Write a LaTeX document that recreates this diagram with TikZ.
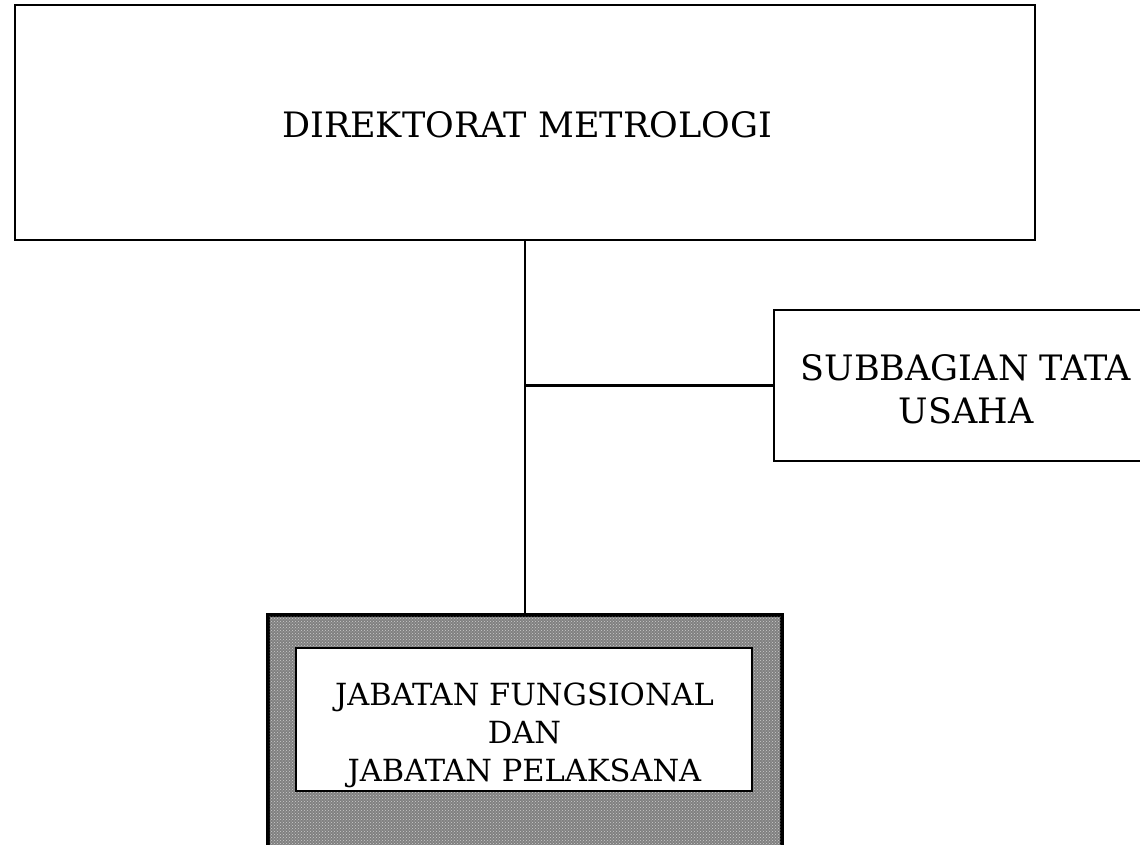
\documentclass[tikz,border=0pt]{standalone}
\usepackage{fontspec}
\setmainfont{DejaVu Serif}
\usetikzlibrary{patterns}
\tikzset{
  box/.style={draw=black, line width=2.8pt, fill=white, rectangle, inner sep=0pt},
  bigtext/.style={font=\fontsize{35}{43}\selectfont, align=center},
  smalltext/.style={font=\fontsize{30.5}{38}\selectfont, align=center},
  conn/.style={draw=black, line width=2.8pt}
}
\begin{document}
\begin{tikzpicture}[x=1pt,y=-1pt]
\useasboundingbox (0,0) rectangle (1140,845);
\clip (0,0) rectangle (1140,845);
% top box
\node[box, minimum width=1020pt, minimum height=235pt] (top) at (525,122.5) {};
\node[bigtext, inner sep=0pt] (toptxt) at (527,125) {DIREKTORAT METROLOGI};
% right box
\node[box, minimum width=376pt, minimum height=151pt] (sub) at (962,385.5) {};
\node[bigtext, inner sep=0pt] (subtxt) at (966,389) {SUBBAGIAN TATA\\USAHA};
% bottom patterned frame
\node[box, minimum width=512pt, minimum height=244pt, fill=black!50] (outer) at (525,738) {};
\fill[pattern=crosshatch dots, pattern color=white!80!black] (outer.south west) rectangle (outer.north east);
\draw[line width=2.8pt] (outer.south west) rectangle (outer.north east);
\node[box, minimum width=456pt, minimum height=143pt] (inner) at (524,719.5) {};
\node[smalltext, inner sep=0pt] (innertxt) at (524.5,735) {JABATAN FUNGSIONAL\\DAN\\JABATAN PELAKSANA};
% connectors
\draw[conn] (top.south) -- (outer.north);
\draw[conn] (top.south |- sub.west) -- (sub.west);
\end{tikzpicture}
\end{document}
